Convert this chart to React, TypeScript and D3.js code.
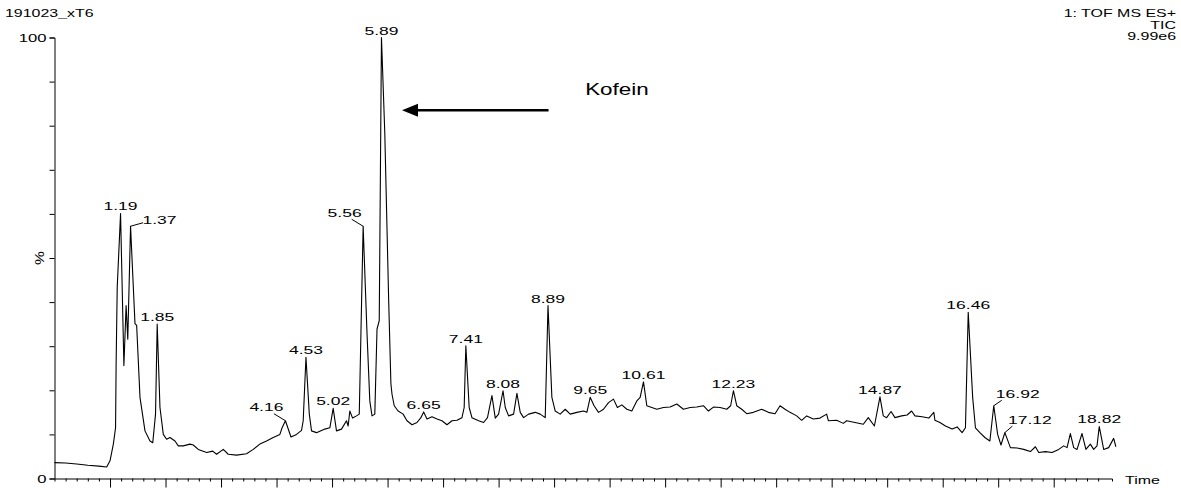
import { useRef, useEffect } from 'react';
import * as d3 from 'd3';

const WIDTH = 1181;
const HEIGHT = 488;
const FONT = '"Liberation Sans", Arial, Helvetica, sans-serif';
const STRETCH = 1.75; // the instrument print-out has horizontally stretched glyphs

// retention time (min)
const times = [
  0.0, 0.2, 0.4, 0.6, 0.8, 0.94, 1.0, 1.06, 1.1, 1.11, 1.13, 1.19, 1.25, 1.29, 1.32, 1.37,
  1.45, 1.48, 1.54, 1.63, 1.72, 1.77, 1.82, 1.85, 1.9, 1.96, 2.02, 2.08, 2.17, 2.23, 2.32,
  2.44, 2.5, 2.59, 2.74, 2.85, 2.92, 3.04, 3.13, 3.28, 3.46, 3.58, 3.7, 3.82, 3.94, 4.06,
  4.1, 4.16, 4.26, 4.36, 4.45, 4.48, 4.53, 4.59, 4.63, 4.72, 4.87, 4.96, 5.02, 5.08, 5.17,
  5.26, 5.29, 5.32, 5.37, 5.44, 5.49, 5.52, 5.56, 5.63, 5.68, 5.72, 5.77, 5.81, 5.85, 5.89,
  5.95, 6.02, 6.06, 6.08, 6.12, 6.19, 6.28, 6.35, 6.44, 6.53, 6.6, 6.65, 6.71, 6.8, 6.89,
  6.98, 7.07, 7.16, 7.25, 7.34, 7.38, 7.41, 7.47, 7.52, 7.64, 7.73, 7.8, 7.88, 7.94, 8.0,
  8.08, 8.12, 8.18, 8.27, 8.33, 8.39, 8.45, 8.54, 8.66, 8.75, 8.84, 8.89, 8.96, 9.02, 9.11,
  9.2, 9.29, 9.41, 9.53, 9.59, 9.65, 9.72, 9.8, 9.89, 9.98, 10.07, 10.14, 10.22, 10.31,
  10.4, 10.49, 10.55, 10.61, 10.67, 10.76, 10.85, 10.97, 11.09, 11.21, 11.33, 11.45, 11.57,
  11.69, 11.78, 11.87, 11.99, 12.11, 12.18, 12.23, 12.29, 12.38, 12.47, 12.59, 12.74, 12.86,
  12.98, 13.07, 13.16, 13.25, 13.37, 13.46, 13.55, 13.67, 13.79, 13.91, 13.94, 14.09, 14.21,
  14.27, 14.42, 14.57, 14.66, 14.77, 14.87, 14.93, 14.99, 15.07, 15.14, 15.26, 15.36, 15.44,
  15.5, 15.63, 15.75, 15.84, 15.86, 15.95, 16.05, 16.17, 16.26, 16.35, 16.41, 16.46, 16.54,
  16.59, 16.67, 16.76, 16.85, 16.92, 16.99, 17.05, 17.12, 17.22, 17.34, 17.46, 17.58, 17.67,
  17.73, 17.85, 17.97, 18.09, 18.18, 18.24, 18.3, 18.36, 18.42, 18.51, 18.58, 18.66, 18.72,
  18.78, 18.82, 18.9, 18.99, 19.08, 19.12,
];

// TIC relative intensity (%)
const intensity = [
  3.6, 3.5, 3.3, 3.0, 2.8, 2.6, 4.0, 7.8, 11.5, 26, 43.4, 60.1, 25.6, 39.2, 31.6, 57.2,
  35.1, 34.7, 18.4, 10.8, 8.5, 8.1, 14.6, 35.0, 16.1, 10.0, 8.9, 9.3, 8.5, 7.4, 7.4,
  7.8, 7.6, 6.6, 5.9, 6.2, 5.5, 6.6, 5.5, 5.3, 5.6, 6.6, 7.8, 8.5, 9.3, 10.0,
  11.5, 13.1, 9.4, 10.0, 10.9, 13.1, 27.5, 14.6, 10.8, 10.4, 11.2, 11.5, 15.9, 10.8, 11.2,
  13.1, 11.9, 15.3, 13.7, 14.2, 14.6, 32.8, 57.2, 32.8, 17.6, 14.2, 14.6, 33.9, 35.8, 100,
  78.3, 40.3, 21.5, 19.1, 16.5, 15.3, 14.6, 13.1, 12.2, 12.7, 13.8, 15.1, 13.5, 14.0, 13.5,
  13.1, 12.2, 13.1, 13.2, 13.8, 16.1, 30.1, 16.1, 13.8, 13.1, 12.7, 13.8, 18.8, 13.7, 14.6,
  19.9, 16.1, 14.2, 14.6, 19.3, 15.0, 13.8, 14.6, 15.0, 14.6, 13.8, 39.2, 18.4, 15.3, 14.6,
  15.7, 14.6, 15.0, 15.3, 15.0, 18.4, 16.5, 15.0, 15.7, 17.2, 18.0, 16.1, 16.7, 15.7,
  15.3, 17.6, 18.4, 21.9, 16.5, 16.1, 15.7, 16.1, 16.2, 16.9, 15.7, 16.1, 16.2,
  16.5, 15.3, 16.2, 16.1, 15.7, 16.5, 19.9, 16.5, 15.7, 14.7, 15.0, 15.7, 15.0,
  14.7, 16.5, 15.7, 15.0, 14.2, 13.2, 14.2, 13.5, 13.7, 14.6, 13.1, 13.2, 12.5,
  13.1, 12.7, 12.3, 13.8, 11.9, 18.5, 14.2, 13.8, 15.2, 13.8, 14.2, 14.4, 15.3,
  14.2, 14.0, 13.7, 15.0, 13.2, 12.7, 11.9, 11.2, 11.7, 10.4, 11.5, 37.7, 18.4,
  11.5, 10.4, 9.3, 8.5, 16.5, 10.0, 7.6, 10.4, 7.0, 6.9, 6.6, 6.1, 7.2,
  5.9, 6.1, 5.9, 6.6, 7.4, 7.0, 10.2, 7.0, 6.6, 10.2, 6.6, 7.8, 6.6,
  7.4, 11.8, 6.6, 7.0, 9.1, 7.2,
];

// labelled apexes
const peakLabels = [
  '1.19', '1.37', '1.85', '4.16', '4.53', '5.02', '5.56', '5.89', '6.65', '7.41',
  '8.08', '8.89', '9.65', '10.61', '12.23', '14.87', '16.46', '16.92', '17.12', '18.82',
];

// labels moved aside with a leader line: [label dx, baseline dy, leader dx, leader dy]
const displaced = {
  '1.37': [29, -2, 12.5, -3.5],
  '4.16': [-19, -9.5, -11.5, -7],
  '5.56': [-18.5, -9, -11.5, -7],
  '16.92': [24, -8, 8, -5.5],
  '17.12': [25, -8.5, 7.5, -6.5],
};

const yTicks = [0, 10, 20, 30, 40, 50, 60, 70, 80, 90, 100];

const stretchedText = (sel, x, y, txt, size, anchor, sx = STRETCH) =>
  sel
    .append('text')
    .attr('transform', `translate(${x},${y}) scale(${sx},1)`)
    .attr('text-anchor', anchor)
    .attr('font-family', FONT)
    .attr('font-size', size)
    .attr('fill', '#000')
    .text(txt);

const Chromatogram = () => {
  const svgRef = useRef(null);

  useEffect(() => {
    const svg = d3.select(svgRef.current);
    svg.selectAll('*').remove();

    const x = d3.scaleLinear().domain([0, 19.05]).range([54.5, 1112]);
    const y = d3.scaleLinear().domain([0, 100]).range([478.5, 37.5]);

    // header texts
    stretchedText(svg, 5, 17, '191023_xT6', 11, 'start', 1.45);
    stretchedText(svg, 1176, 17, '1: TOF MS ES+', 11, 'end', 1.45);
    stretchedText(svg, 1176, 28.5, 'TIC', 11, 'end', 1.45);
    stretchedText(svg, 1176, 40, '9.99e6', 11, 'end', 1.45);

    // Y axis
    const yAxis = svg
      .append('g')
      .attr('transform', `translate(${x(0)},0)`)
      .call(
        d3
          .axisLeft(y)
          .tickValues(yTicks)
          .tickSize(5)
          .tickPadding(3)
          .tickFormat((d) => (d === 0 || d === 100 ? String(d) : ''))
      );
    yAxis.selectAll('path').attr('stroke', '#000').attr('stroke-width', 1);
    yAxis.selectAll('line').attr('stroke', '#000');
    yAxis
      .selectAll('text')
      .attr('font-family', FONT)
      .attr('font-size', 11.5)
      .attr('fill', '#000')
      .attr('transform', 'scale(1.45,1)')
      .attr('x', -8 / 1.45);

    svg
      .append('text')
      .attr('transform', `translate(44,${y(50)}) rotate(-90) scale(1.3,1)`)
      .attr('text-anchor', 'middle')
      .attr('font-family', FONT)
      .attr('font-size', 12)
      .text('%');

    // X axis: minor ticks every 0.2 min, major every minute
    const minor = d3.range(1, 96).map((i) => i / 5).filter((v) => Math.abs(v - Math.round(v)) > 1e-6);
    const major = d3.range(1, 19);
    const xMinor = svg
      .append('g')
      .attr('transform', `translate(0,${y(0)})`)
      .call(d3.axisBottom(x).tickValues(minor).tickSize(3).tickFormat(() => ''));
    xMinor.select('path').attr('stroke', '#000');
    xMinor.selectAll('line').attr('stroke', '#000');
    const xMajor = svg
      .append('g')
      .attr('transform', `translate(0,${y(0)})`)
      .call(
        d3
          .axisBottom(x)
          .tickValues(major)
          .tickSize(9)
          .tickPadding(1)
          .tickFormat((d) => (d % 2 === 0 ? d.toFixed(2) : ''))
      );
    xMajor.select('path').remove();
    xMajor.selectAll('line').attr('stroke', '#000');
    xMajor
      .selectAll('text')
      .attr('font-family', FONT)
      .attr('font-size', 10)
      .attr('fill', '#000')
      .attr('transform', `scale(${STRETCH},1)`);

    stretchedText(svg, 1125, 484, 'Time', 11, 'start', 1.45);

    // trace
    const pts = times.map((t, i) => [t, intensity[i]]);
    svg
      .append('path')
      .datum(pts)
      .attr('fill', 'none')
      .attr('stroke', '#000')
      .attr('stroke-width', 1.1)
      .attr('stroke-linejoin', 'round')
      .attr('d', d3.line().x((d) => x(d[0])).y((d) => y(d[1])));

    // peak labels
    peakLabels.forEach((lab) => {
      const t = +lab;
      const i = times.indexOf(t);
      const px = x(t);
      const py = y(intensity[i]);
      const off = displaced[lab];
      if (off) {
        svg
          .append('line')
          .attr('x1', px)
          .attr('y1', py)
          .attr('x2', px + off[2])
          .attr('y2', py + off[3])
          .attr('stroke', '#000')
          .attr('stroke-width', 1);
        stretchedText(svg, px + off[0], py + off[1], lab, 10, 'middle');
      } else {
        stretchedText(svg, px, py - 3, lab, 10, 'middle');
      }
    });

    // Kofein annotation
    const ay = y(83.5);
    svg
      .append('line')
      .attr('x1', x(8.9))
      .attr('x2', x(6.5))
      .attr('y1', ay)
      .attr('y2', ay)
      .attr('stroke', '#000')
      .attr('stroke-width', 2.5);
    const tip = x(6.26);
    svg
      .append('path')
      .attr('d', `M${tip},${ay} L${tip + 16},${ay - 6.5} L${tip + 16},${ay + 6.5} Z`)
      .attr('fill', '#000');
    stretchedText(svg, x(9.56), y(87), 'Kofein', 16, 'start', 1.4);
  }, []);

  return (
    <svg
      ref={svgRef}
      width={WIDTH}
      height={HEIGHT}
      style={{ position: 'absolute', left: 0, top: 0, background: '#fff' }}
    />
  );
};

export default function App() {
  return <Chromatogram />;
}
